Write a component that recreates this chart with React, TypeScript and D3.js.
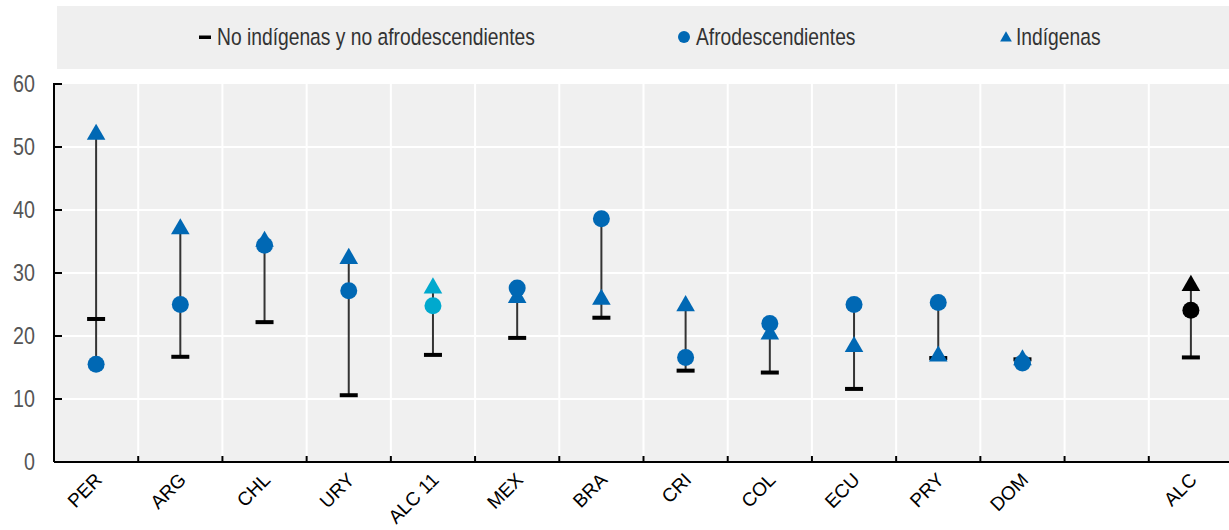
import React from "react";
import * as d3 from "d3";

const categories = ["PER", "ARG", "CHL", "URY", "ALC 11", "MEX", "BRA", "CRI", "COL", "ECU", "PRY", "DOM", "", "ALC"];
const noIndNoAfro: (number | null)[] = [22.7, 16.7, 22.2, 10.6, 17.0, 19.7, 22.9, 14.5, 14.2, 11.6, 16.5, 16.3, null, 16.6];
const afro: (number | null)[] = [15.5, 25.0, 34.4, 27.2, 24.8, 27.6, 38.6, 16.6, 22.0, 25.0, 25.3, 15.7, null, 24.1];
const indigenas: (number | null)[] = [52.0, 37.0, 35.0, 32.3, 27.6, 26.1, 25.8, 24.8, 20.3, 18.3, 16.8, 16.2, null, 28.0];
const yTicks = [0, 10, 20, 30, 40, 50, 60];

const W = 1229;
const H = 530;
const FONT = "'Liberation Sans', Arial, sans-serif";
const BLUE = "#0068B4";
const CYAN = "#00A9CE";
const BLACK = "#000000";
const NARROW = 0.82;

function colorFor(cat: string) {
  if (cat === "ALC 11") return CYAN;
  if (cat === "ALC") return BLACK;
  return BLUE;
}

function NarrowText(props: { x: number; y: number; size: number; anchor?: string; fill?: string; children: React.ReactNode }) {
  return (
    <g transform={`translate(${props.x},${props.y}) scale(${NARROW},1)`}>
      <text x={0} y={0} fontSize={props.size} textAnchor={props.anchor || "start"} fill={props.fill || "#333"}>{props.children}</text>
    </g>
  );
}

export default function App() {
  const left = 54;
  const right = 1233;
  const top = 84;
  const bottom = 462;
  const x = d3.scaleBand<number>().domain(d3.range(categories.length)).range([left, right]).padding(0);
  const y = d3.scaleLinear().domain([0, 60]).range([bottom, top]);
  const bw = x.bandwidth();
  const tri = d3.symbol().type(d3.symbolTriangle).size(150)() as string;

  return (
    <svg width={W} height={H} style={{ position: "absolute", left: 0, top: 0, background: "#fff" }} fontFamily={FONT}>
      {/* legend */}
      <rect x={57} y={6} width={W - 57} height={63} fill="#efefef" />
      <rect x={199} y={35.5} width={12} height={3.5} fill="#000" />
      <NarrowText x={217} y={45} size={23.5}>No indígenas y no afrodescendientes</NarrowText>
      <circle cx={684} cy={37} r={6} fill={BLUE} />
      <NarrowText x={696} y={45} size={23.5}>Afrodescendientes</NarrowText>
      <path d={d3.symbol().type(d3.symbolTriangle).size(60)() as string} transform={`translate(1006,38)`} fill={BLUE} />
      <NarrowText x={1016} y={45} size={23.5}>Indígenas</NarrowText>

      {/* plot bg */}
      <rect x={left} y={top} width={right - left} height={bottom - top} fill="#f0f0f0" />
      {yTicks.filter((t) => t > 0 && t < 60).map((t) => (
        <line key={"h" + t} x1={left} x2={right} y1={y(t)} y2={y(t)} stroke="#fff" strokeWidth={2} />
      ))}
      {d3.range(1, categories.length).map((i) => (
        <line key={"v" + i} x1={x(i)!} x2={x(i)!} y1={top} y2={bottom} stroke="#fff" strokeWidth={2} />
      ))}

      {/* axes */}
      <line x1={left} x2={left} y1={top - 1} y2={bottom} stroke="#000" strokeWidth={2} />
      <line x1={left} x2={right} y1={bottom} y2={bottom} stroke="#000" strokeWidth={2} />
      {yTicks.map((t) => (
        <g key={"yt" + t}>
          <line x1={left} x2={left + 8} y1={y(t)} y2={y(t)} stroke="#000" strokeWidth={2} />
          <NarrowText x={35} y={y(t) + 8} size={24} anchor="end" fill="#555">{t}</NarrowText>
        </g>
      ))}
      {d3.range(1, categories.length).map((i) => (
        <line key={"xt" + i} x1={x(i)!} x2={x(i)!} y1={bottom} y2={bottom - 6} stroke="#000" strokeWidth={2} />
      ))}
      {categories.map((c, i) => (
        c ? (
          <g key={"xl" + i} transform={`translate(${x(i)! + bw / 2 + 7},${bottom + 19})`}>
            <text textAnchor="end" fontSize={19} fill="#000" transform="rotate(-45)">{c}</text>
          </g>
        ) : null
      ))}

      {/* marks */}
      {categories.map((c, i) => {
        const vals = [noIndNoAfro[i], afro[i], indigenas[i]].filter((v) => v != null) as number[];
        if (!vals.length) return null;
        const cx = x(i)! + bw / 2;
        const col = colorFor(c);
        const lo = d3.min(vals)!;
        const hi = d3.max(vals)!;
        return (
          <g key={"m" + i}>
            <line x1={cx} x2={cx} y1={y(lo)} y2={y(hi)} stroke="#333" strokeWidth={2} />
            {noIndNoAfro[i] != null && (
              <rect x={cx - 9} y={y(noIndNoAfro[i]!) - 2} width={18} height={4} fill="#000" />
            )}
            {indigenas[i] != null && (
              <path d={tri} transform={`translate(${cx},${y(indigenas[i]!)})`} fill={col} />
            )}
            {afro[i] != null && (
              <circle cx={cx} cy={y(afro[i]!)} r={8.5} fill={col} />
            )}
          </g>
        );
      })}
    </svg>
  );
}
